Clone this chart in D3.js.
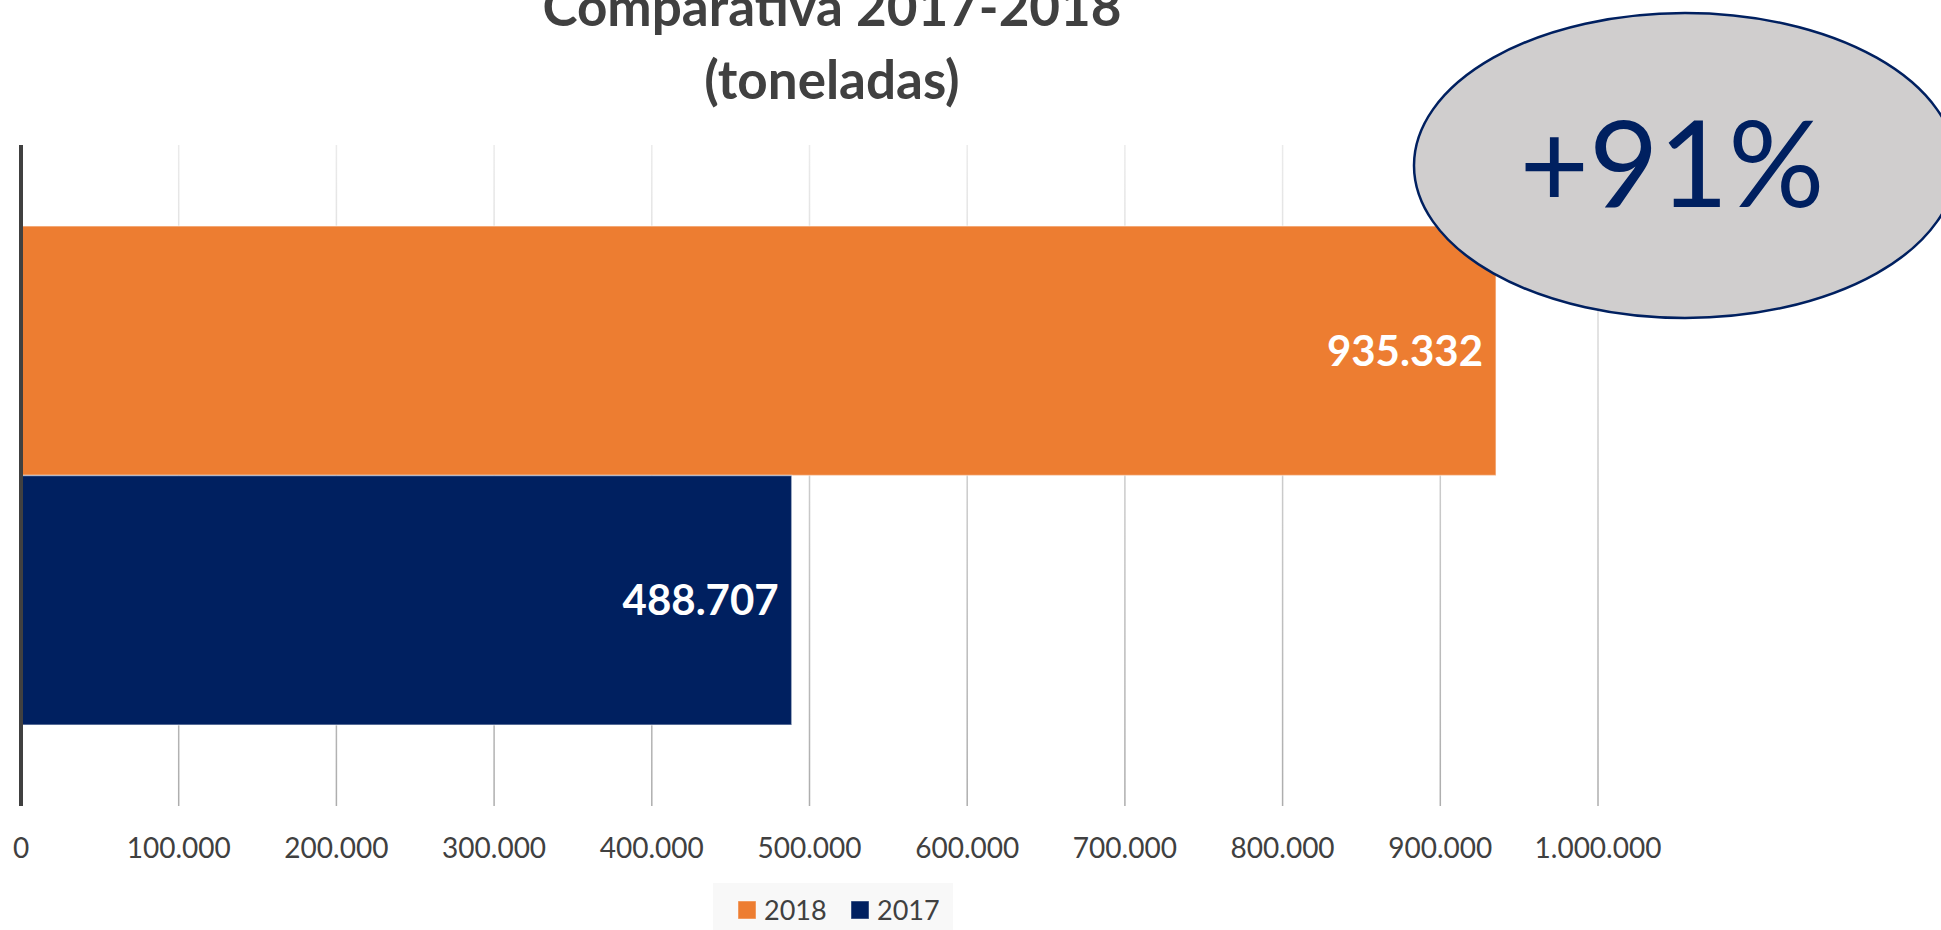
<!DOCTYPE html>
<html>
<head>
<meta charset="utf-8">
<script src="https://cdnjs.cloudflare.com/ajax/libs/d3/7.8.5/d3.min.js"></script>
<style>
body { margin: 0; background: #fff; }
svg { display: block; font-family: Lato, "Open Sans", sans-serif; }
</style>
</head>
<body>
<script>
// data
var series = ["2018", "2017"];
var values = [935332, 488707];
var colors = ["#ed7d31", "#002060"];
var tickValues = [0, 100000, 200000, 300000, 400000, 500000, 600000, 700000, 800000, 900000, 1000000];
var titleLines = ["Comparativa 2017-2018", "(toneladas)"];
var badgeText = "+91%";

var W = 1941, H = 930;
var plot = {left: 21, right: 1598, top: 145, bottom: 806};

var locale = d3.formatLocale({decimal: ",", thousands: ".", grouping: [3], currency: ["", ""]});
var fmt = locale.format(",d");

var svg = d3.select("body").append("svg")
    .attr("width", W)
    .attr("height", H);

// gridlines fade from light at the top to darker at the bottom
var grad = svg.append("defs").append("linearGradient")
    .attr("id", "gridFade")
    .attr("gradientUnits", "userSpaceOnUse")
    .attr("x1", 0).attr("y1", plot.top)
    .attr("x2", 0).attr("y2", plot.bottom);
grad.append("stop").attr("offset", 0).attr("stop-color", "#ebebeb");
grad.append("stop").attr("offset", 1).attr("stop-color", "#adadad");

var x = d3.scaleLinear().domain([0, 1000000]).range([plot.left, plot.right]);
var y = d3.scaleBand().domain(series).range([plot.top, plot.bottom])
    .paddingInner(0).paddingOuter(0.3246);

// title
svg.append("g").selectAll("text")
    .data(titleLines)
  .enter().append("text")
    .attr("x", 832)
    .attr("y", function(d, i) { return 26 + i * 73; })
    .attr("text-anchor", "middle")
    .style("font-size", "53px")
    .style("font-weight", "bold")
    .style("fill", "#404040")
    .text(function(d) { return d; });

// gridlines
svg.append("g").selectAll("line")
    .data(tickValues.slice(1))
  .enter().append("line")
    .attr("x1", function(d) { return x(d); })
    .attr("x2", function(d) { return x(d); })
    .attr("y1", plot.top)
    .attr("y2", plot.bottom)
    .style("stroke", "url(#gridFade)")
    .style("stroke-width", 1.5);

// bars
var bars = svg.append("g").selectAll("g")
    .data(series)
  .enter().append("g");

bars.append("rect")
    .attr("x", x(0))
    .attr("y", function(d) { return y(d); })
    .attr("width", function(d, i) { return x(values[i]) - x(0); })
    .attr("height", y.bandwidth())
    .style("fill", function(d, i) { return colors[i]; })
    .style("stroke", "rgba(255,255,255,0.45)")
    .style("stroke-width", 1.5);

bars.append("text")
    .attr("x", function(d, i) { return x(values[i]) - 13; })
    .attr("y", function(d) { return y(d) + y.bandwidth() / 2; })
    .attr("dy", "0.36em")
    .attr("text-anchor", "end")
    .style("font-size", "42px")
    .style("font-weight", "bold")
    .style("fill", "#fff")
    .text(function(d, i) { return fmt(values[i]); });

// left axis line
svg.append("line")
    .attr("x1", plot.left).attr("x2", plot.left)
    .attr("y1", plot.top).attr("y2", plot.bottom)
    .style("stroke", "#404040")
    .style("stroke-width", 4);

// x tick labels
svg.append("g").selectAll("text")
    .data(tickValues)
  .enter().append("text")
    .attr("x", function(d) { return x(d); })
    .attr("y", 858)
    .attr("text-anchor", "middle")
    .style("font-size", "28px")
    .style("fill", "#404040")
    .text(function(d) { return fmt(d); });

// legend
var legend = svg.append("g");
legend.append("rect")
    .attr("x", 713).attr("y", 883)
    .attr("width", 240).attr("height", 47)
    .style("fill", "#f8f8f8");
var items = legend.selectAll("g.item")
    .data(series)
  .enter().append("g")
    .attr("class", "item")
    .attr("transform", function(d, i) { return "translate(" + (738 + i * 113) + ",0)"; });
items.append("rect")
    .attr("x", 0).attr("y", 901)
    .attr("width", 18).attr("height", 18)
    .style("fill", function(d, i) { return colors[i]; })
    .style("stroke", "rgba(255,255,255,0.45)");
items.append("text")
    .attr("x", 26).attr("y", 920)
    .style("font-size", "27px")
    .style("fill", "#404040")
    .text(function(d) { return d; });

// growth badge
svg.append("ellipse")
    .attr("cx", 1685).attr("cy", 165.5)
    .attr("rx", 271).attr("ry", 152.5)
    .style("fill", "#d0cece")
    .style("stroke", "#002060")
    .style("stroke-width", 2.5);
svg.append("text")
    .attr("x", 1672).attr("y", 207)
    .attr("text-anchor", "middle")
    .style("font-size", "120px")
    .style("fill", "#002060")
    .text(badgeText);
</script>
</body>
</html>
